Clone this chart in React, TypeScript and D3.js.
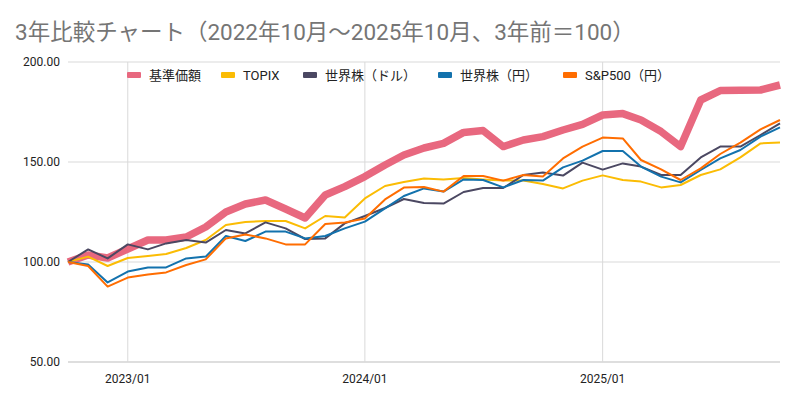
import * as d3 from 'd3';
import React, { useEffect, useRef } from 'react';

// monthly points, 2022/10 .. 2025/10 (3年前 = 100)
const months = d3.timeMonths(new Date(2022, 9, 1), new Date(2025, 10, 1));

const seriesNames = ['基準価額', 'TOPIX', '世界株（ドル）', '世界株（円）', 'S&P500（円）'];
const seriesColors = ['#e8687f', '#fbbc04', '#4b4862', '#1372ad', '#ff6d01'];
const seriesWidths = [7.5, 2, 2, 2, 2];

const fundValues = [100, 103.5, 102, 106.5, 111, 111, 112.5, 117.5, 125, 129, 131, 126.5, 122, 133.5, 137.7, 142.7, 148.5, 153.5, 157, 159.3, 164.8, 165.7, 157.7, 161, 162.7, 166, 168.8, 173.5, 174.2, 171, 165.2, 157.7, 181, 185.7, 185.9, 186, 188.5];
const topixValues = [100, 102.7, 98, 102, 103, 104, 107, 111, 118.5, 120, 120.5, 120.5, 116.8, 123, 122.3, 131.8, 138, 140, 141.8, 141.3, 142, 141.3, 140.7, 140.7, 139, 136.8, 140.7, 143.3, 141, 140.2, 137.3, 138.5, 143.5, 146.3, 152.3, 159.3, 159.8];
const worldUsdValues = [100, 106.3, 101.8, 108.8, 106.3, 109.3, 111, 109.7, 116, 114.3, 119.8, 116.8, 111.5, 111.8, 119.3, 123, 127, 131.5, 129.5, 129.2, 135, 137, 137, 143.5, 144.7, 143.2, 149.7, 146.2, 149.3, 147.7, 143.5, 143.5, 152.3, 157.7, 157.7, 163.5, 169.3];
const worldJpyValues = [100, 98.8, 89.8, 95.2, 97.3, 97.3, 101.8, 102.7, 113, 110.5, 115.2, 115.2, 111.8, 113, 116.8, 120.2, 126.8, 133, 136.8, 135.2, 141.3, 141, 137.3, 141, 140.7, 147.3, 150.7, 155.5, 155.5, 147.7, 142.7, 139.8, 146, 151.8, 156, 162.7, 167.3];
const spValues = [100, 98, 87.7, 92.2, 93.8, 94.8, 98.5, 101.3, 111.8, 113.8, 111.8, 108.8, 108.8, 119, 119.7, 121.8, 131.3, 137.2, 137.5, 135.2, 143, 143, 140.7, 143.5, 142.7, 151.8, 157.7, 162.2, 161.8, 151, 146.3, 141, 146.8, 154, 159.7, 166.3, 171];

const seriesValues = [fundValues, topixValues, worldUsdValues, worldJpyValues, spValues];

const yTicks = [50, 100, 150, 200];
const xTickDates = [new Date(2023, 0, 1), new Date(2024, 0, 1), new Date(2025, 0, 1)];

const title = '3年比較チャート（2022年10月～2025年10月、3年前＝100）';

function App() {
  const ref = useRef<SVGSVGElement>(null);

  useEffect(() => {
    const width = 800;
    const height = 403;
    const margin = { top: 62, right: 20, bottom: 41, left: 68 };

    const svg = d3.select(ref.current);
    svg.selectAll('*').remove();
    svg.attr('width', width).attr('height', height)
       .style('font-family', 'Roboto, "Noto Sans CJK JP", sans-serif');

    svg.append('rect').attr('width', width).attr('height', height).attr('fill', '#fff');

    const x = d3.scaleTime()
                .domain([months[0], months[months.length - 1]])
                .range([margin.left, width - margin.right]);
    const y = d3.scaleLinear()
                .domain([50, 200])
                .range([height - margin.bottom, margin.top]);

    // title
    svg.append('text')
       .attr('x', 15).attr('y', 40)
       .attr('fill', '#757575')
       .attr('font-size', 22.5)
       .text(title);

    // grid
    const grid = svg.append('g');
    grid.selectAll('line.h')
        .data(yTicks)
        .enter()
        .append('line')
        .attr('x1', margin.left).attr('x2', width - margin.right)
        .attr('y1', d => y(d)).attr('y2', d => y(d))
        .attr('stroke', d => d === 50 ? '#bdbdbd' : '#d9d9d9')
        .attr('stroke-width', 1);
    grid.selectAll('line.v')
        .data(xTickDates)
        .enter()
        .append('line')
        .attr('x1', d => x(d)).attr('x2', d => x(d))
        .attr('y1', margin.top).attr('y2', height - margin.bottom)
        .attr('stroke', '#d9d9d9')
        .attr('stroke-width', 1);

    // axis labels
    svg.append('g').selectAll('text')
       .data(yTicks)
       .enter()
       .append('text')
       .attr('x', 60).attr('y', d => y(d) + 4)
       .attr('text-anchor', 'end')
       .attr('font-size', 12)
       .attr('fill', '#222')
       .text(d => d.toFixed(2));
    svg.append('g').selectAll('text')
       .data(xTickDates)
       .enter()
       .append('text')
       .attr('x', d => x(d)).attr('y', 383)
       .attr('text-anchor', 'middle')
       .attr('font-size', 12)
       .attr('fill', '#222')
       .text(d => d3.timeFormat('%Y/%m')(d));

    // lines
    const line = d3.line<number>()
                   .x((_, i) => x(months[i]))
                   .y(d => y(d));
    seriesValues.forEach((vals, k) => {
      svg.append('path')
         .datum(vals)
         .attr('d', line)
         .attr('fill', 'none')
         .attr('stroke', seriesColors[k])
         .attr('stroke-width', seriesWidths[k])
         .attr('stroke-linejoin', 'round');
    });

    // legend
    const legendX = [127, 221, 303, 438, 563];
    const legend = svg.append('g');
    seriesNames.forEach((name, k) => {
      legend.append('rect')
            .attr('x', legendX[k]).attr('y', 72)
            .attr('width', 14).attr('height', 6)
            .attr('rx', 1)
            .attr('fill', seriesColors[k]);
      legend.append('text')
            .attr('x', legendX[k] + 22).attr('y', 80)
            .attr('font-size', 13)
            .attr('fill', '#222')
            .text(name);
    });
  });

  return (
    <svg ref={ref} style={{ display: 'block', position: 'absolute', left: 0, top: 0 }}></svg>
  );
}

export default App;
